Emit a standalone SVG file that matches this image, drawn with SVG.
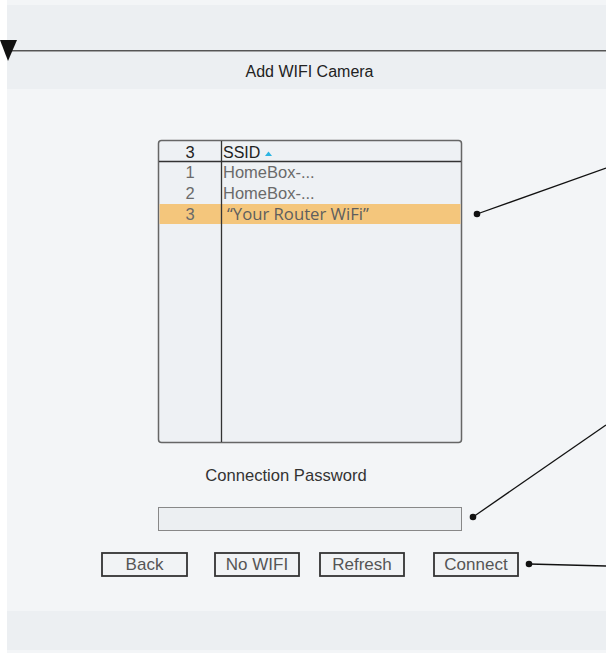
<svg xmlns="http://www.w3.org/2000/svg" width="606" height="653" viewBox="0 0 606 653">
<style>
.t{font-family:"Liberation Sans",Arial,sans-serif;font-size:16px;fill:#222}
.g{font-family:"Liberation Sans",Arial,sans-serif;font-size:16.5px;fill:#6a6a6a}
.btn rect{fill:#f1f3f5;stroke:#333;stroke-width:1.8}
.btn text{font-family:"Liberation Sans",Arial,sans-serif;font-size:17px;fill:#555;text-anchor:middle}
.conn line{stroke:#111;stroke-width:1.3}
.conn circle{fill:#111}
</style>
<rect width="606" height="653" fill="#ffffff"/>
<g id="panel">
<rect x="7" y="0" width="599" height="653" fill="#f3f5f7"/>
<rect x="7" y="5" width="599" height="45" fill="#eceff2"/>
<rect x="7" y="52" width="599" height="37" fill="#eceff2"/>
<rect x="7" y="611" width="599" height="39" fill="#eceff2"/>
<line x1="7" y1="50.8" x2="606" y2="50.8" stroke="#555" stroke-width="1.6"/>
<polygon points="0,40 17,40 8,61" fill="#111"/>
<text class="t" x="309.5" y="76.5" text-anchor="middle">Add WIFI Camera</text>
</g>
<g id="ssid-table">
<rect x="158.5" y="140.5" width="303" height="302" rx="3" fill="#eef1f4" stroke="#666" stroke-width="1.5"/>
<rect x="159.5" y="204" width="301" height="20" fill="#f4c67c"/>
<line x1="159" y1="161.5" x2="461" y2="161.5" stroke="#333" stroke-width="1.3"/>
<line x1="221.5" y1="141" x2="221.5" y2="442" stroke="#333" stroke-width="1.3"/>
<text class="t" x="190" y="157.5" text-anchor="middle" style="font-size:16.5px">3</text>
<text class="t" x="223" y="157.5" style="font-size:16px">SSID</text>
<polygon points="265,156 272,156 268.5,151.5" fill="#2bb5e3"/>
<text class="g" x="190" y="177.5" text-anchor="middle">1</text>
<text class="g" x="223" y="177.5">HomeBox-...</text>
<text class="g" x="190" y="198.5" text-anchor="middle">2</text>
<text class="g" x="223" y="198.5">HomeBox-...</text>
<text class="g" x="190" y="220" text-anchor="middle">3</text>
<text class="g" x="227" y="220" style="font-family:'Open Sans','Liberation Sans',sans-serif;font-size:16.7px;fill:#5e5e5e">“Your Router WiFi”</text>
</g>
<g id="password">
<text class="t" x="286" y="481" text-anchor="middle" style="fill:#333;font-size:16.6px">Connection Password</text>
<rect x="158.5" y="507.5" width="303" height="23" fill="#eceff2" stroke="#888" stroke-width="1"/>
</g>
<g id="btn-back" class="btn"><rect x="102" y="553" width="85" height="23"/><text x="144.5" y="570">Back</text></g>
<g id="btn-nowifi" class="btn"><rect x="215" y="553" width="84" height="23"/><text x="257" y="570">No WIFI</text></g>
<g id="btn-refresh" class="btn"><rect x="320" y="553" width="84" height="23"/><text x="362" y="570">Refresh</text></g>
<g id="btn-connect" class="btn"><rect x="434" y="553" width="84" height="23"/><text x="476" y="570">Connect</text></g>
<g id="connectors" class="conn">
<line x1="477" y1="214" x2="606" y2="168"/><circle cx="477" cy="214" r="3.3"/>
<line x1="473" y1="517" x2="606" y2="425"/><circle cx="473" cy="517" r="3.3"/>
<line x1="529" y1="564" x2="606" y2="566"/><circle cx="529" cy="564" r="3.3"/>
</g>
</svg>
